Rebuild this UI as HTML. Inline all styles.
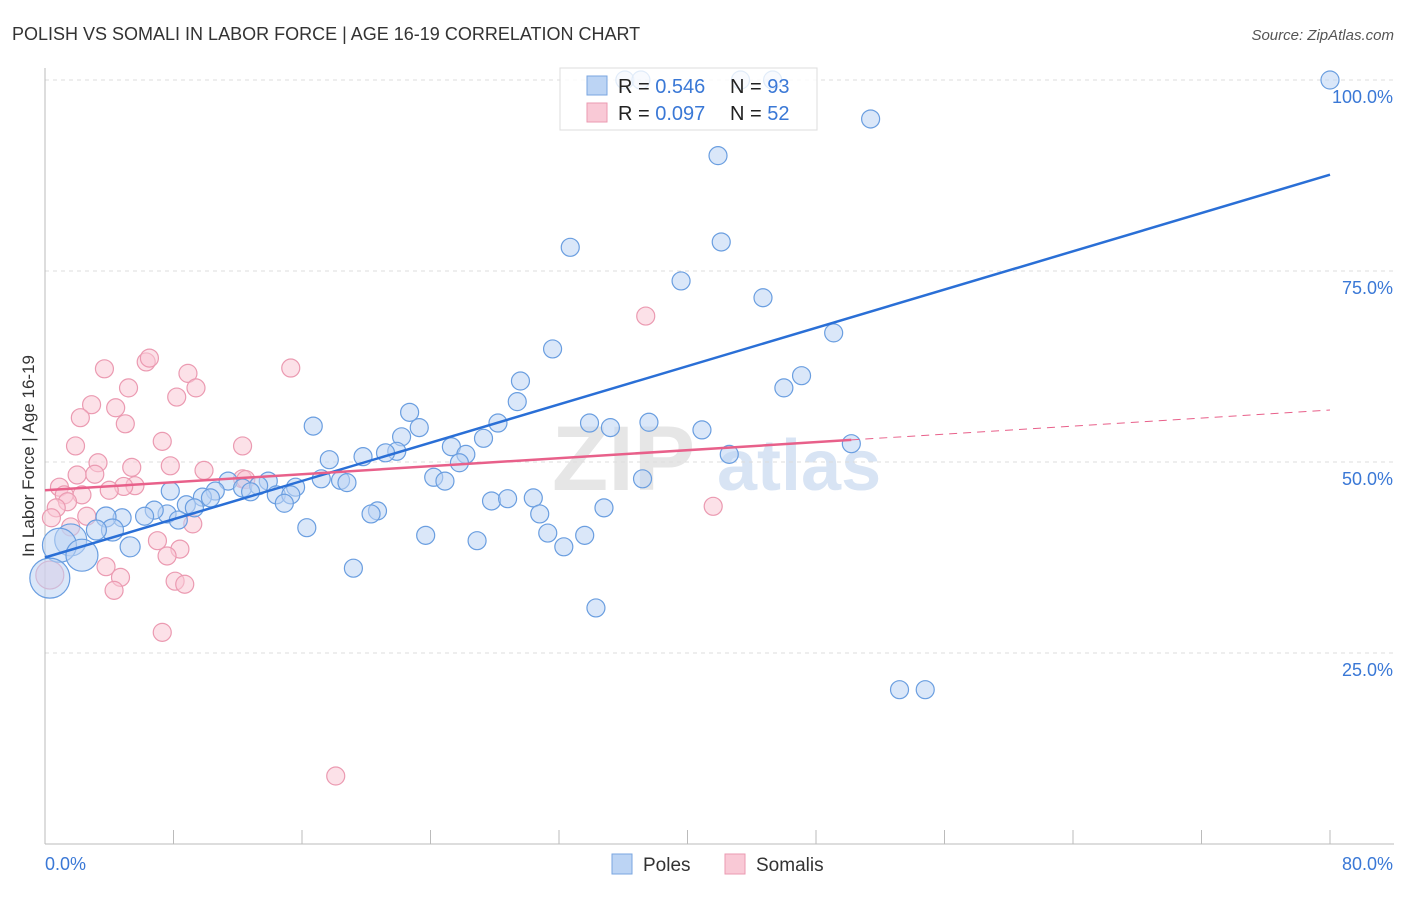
<!DOCTYPE html>
<html><head><meta charset="utf-8"><style>
body{margin:0;background:#fff;font-family:"Liberation Sans",sans-serif}
svg text{font-family:"Liberation Sans",sans-serif}
</style></head><body>
<svg id="chart" width="1406" height="892" viewBox="0 0 1406 892">
<text x="12" y="40" font-size="18" fill="#333">POLISH VS SOMALI IN LABOR FORCE | AGE 16-19 CORRELATION CHART</text>
<text x="1394" y="40" font-size="15" fill="#555" font-style="italic" text-anchor="end">Source: ZipAtlas.com</text>
<g><text x="552" y="490" font-size="92" font-weight="bold" fill="#e6e6e6" font-family="Liberation Serif">ZIP</text><text x="717" y="490" font-size="72" font-weight="bold" fill="#d8e4f4">atlas</text></g>
<g id="grid"></g>
<g id="axes"></g>
<g id="marks"></g>
<text transform="translate(34,456) rotate(-90)" font-size="17" fill="#333" text-anchor="middle">In Labor Force | Age 16-19</text>
<g>
<rect x="560" y="68" width="257" height="62" fill="#fff" fill-opacity="0.8" stroke="#ddd"/>
<rect x="587" y="76" width="20" height="19" fill="#bcd4f4" stroke="#7aa6e0"/>
<rect x="587" y="103" width="20" height="19" fill="#f9c9d6" stroke="#eb9ab1"/>
<text x="618" y="93" font-size="20" fill="#222">R = <tspan fill="#3a78d6">0.546</tspan></text>
<text x="730" y="93" font-size="20" fill="#222">N = <tspan fill="#3a78d6">93</tspan></text>
<text x="618" y="120" font-size="20" fill="#222">R = <tspan fill="#3a78d6">0.097</tspan></text>
<text x="730" y="120" font-size="20" fill="#222">N = <tspan fill="#3a78d6">52</tspan></text>
</g>
<g>
<rect x="612" y="854" width="20" height="20" fill="#bcd4f4" stroke="#7aa6e0"/>
<text x="643" y="871" font-size="19" fill="#333">Poles</text>
<rect x="725" y="854" width="20" height="20" fill="#f9c9d6" stroke="#eb9ab1"/>
<text x="756" y="871" font-size="19" fill="#333">Somalis</text>
</g>
</svg>
<script>
const yTicks=[25,50,75,100];
const yTickLabels=["25.0%","50.0%","75.0%","100.0%"];
const xTicks=[0,8,16,24,32,40,48,56,64,72,80];
const polesX=[80,51.4,41.9,32.7,42.1,39.6,44.7,49.1,31.6,47.1,46,29.6,29.4,22.7,16.7,28.2,33.9,35.2,37.6,40.9,23.3,22.2,27.3,50.2,42.6,25.3,26.2,21.9,21.2,19.8,17.7,25.8,37.2,24.2,24.9,17.2,18.4,18.8,13.9,11.4,12.3,13.3,12.8,15.6,14.4,15.3,14.9,10.6,9.8,10.3,7.8,8.8,9.3,7.6,6.8,6.2,8.3,4.8,3.8,4.2,3.2,5.3,1.6,0.9,2.3,0.3,27.8,28.8,30.4,30.8,34.8,20.7,20.3,16.3,23.7,26.9,31.3,32.3,33.6,19.2,34.3,53.2,54.8,36.1,37.1,43.3,45.3];
const polesY=[100,94.9,90.1,78.1,78.8,73.7,71.5,66.9,64.8,61.3,59.7,60.6,57.9,56.5,54.7,55.1,55.1,54.5,55.2,54.2,54.5,53.3,53.1,52.4,51,52,51,51.4,51.2,50.7,50.3,49.9,47.8,48,47.5,47.8,47.6,47.3,47.5,47.5,46.6,46.9,46.1,46.7,45.7,45.7,44.6,46.2,45.4,45.3,46.2,44.4,44,43.2,43.7,42.9,42.4,42.7,42.8,41.1,41.1,38.9,39.8,39.1,37.8,34.8,44.9,45.2,45.3,43.2,44,43.6,43.2,41.4,40.4,39.7,40.7,38.9,40.4,36.1,30.9,20.2,20.2,100,100,100,100];
const polesSize=[9,9,9,9,9,9,9,9,9,9,9,9,9,9,9,9,9,9,9,9,9,9,9,9,9,9,9,9,9,9,9,9,9,9,9,9,9,9,9,9,9,9,9,9,9,9,9,9,9,9,9,9,9,9,9,9,9,9,10,11,10,10,16,17,16,20,9,9,9,9,9,9,9,9,9,9,9,9,9,9,9,9,9,9,9,9,9];
const somX=[3.7,15.3,6.3,6.5,8.9,5.2,9.4,8.2,2.9,4.4,2.2,5,37.4,7.3,12.3,1.9,5.4,7.8,3.3,9.9,2,3.1,12.3,5.6,4.9,4,0.9,1.2,2.3,1.4,0.7,2.6,0.4,1.6,9.2,41.6,7,8.4,7.6,3.8,4.7,8.1,8.7,4.3,7.3,18.1,0.3,12.5];
const somY=[62.2,62.3,63.1,63.6,61.6,59.7,59.7,58.5,57.5,57.1,55.8,55,69.1,52.7,52.1,52.1,49.3,49.5,49.9,48.9,48.3,48.4,47.8,46.9,46.8,46.3,46.7,45.7,45.7,44.8,44,42.9,42.7,41.5,41.9,44.2,39.7,38.6,37.7,36.3,34.9,34.4,34,33.2,27.7,8.9,35.2,47.7];
const somSize=[9,9,9,9,9,9,9,9,9,9,9,9,9,9,9,9,9,9,9,9,9,9,9,9,9,9,9,9,9,9,9,9,9,9,9,9,9,9,9,9,9,9,9,9,9,9,14,9];
const polesTrend=[37.5,87.6]; // y at x=0 and x=80
const somTrend=[46.3,56.8]; // y at x=0 and x=80
const somTrendSolidEnd=50.2;

const X=v=>45+v/80*1285, Y=v=>844-v/100*764;
const NS="http://www.w3.org/2000/svg";
function mk(t,a,p){const e=document.createElementNS(NS,t);for(const k in a)e.setAttribute(k,a[k]);p.appendChild(e);return e;}
const grid=document.getElementById('grid'),axes=document.getElementById('axes'),marks=document.getElementById('marks');
yTicks.forEach((v,i)=>{
 const l=mk('line',{x1:45,x2:1394,y1:Y(v),y2:Y(v),stroke:'#ddd','stroke-dasharray':'4,4'},grid);
 
 
 const t=mk('text',{x:1393,y:Y(v)+23,'font-size':18,fill:'#3a78d6','text-anchor':'end'},axes);
 t.textContent=yTickLabels[i];
 
 
});
mk('line',{x1:45,x2:45,y1:68,y2:844,stroke:'#bbb'},axes);
mk('line',{x1:45,x2:1394,y1:844,y2:844,stroke:'#bbb'},axes);
xTicks.forEach(v=>{const l=mk('line',{x1:X(v),x2:X(v),y1:830,y2:844,stroke:'#bbb'},axes);
 
 });
const x0=mk('text',{x:45,y:870,'font-size':18,fill:'#3a78d6'},axes);x0.textContent="0.0%";


const x1=mk('text',{x:1393,y:870,'font-size':18,fill:'#3a78d6','text-anchor':'end'},axes);x1.textContent="80.0%";


somX.forEach((v,i)=>{const c=mk('circle',{cx:X(v),cy:Y(somY[i]),r:somSize[i],fill:'#f9c9d6','fill-opacity':0.55,stroke:'#eb9ab1','stroke-width':1.2},marks);
 
 });
polesX.forEach((v,i)=>{const c=mk('circle',{cx:X(v),cy:Y(polesY[i]),r:polesSize[i],fill:'#bcd4f4','fill-opacity':0.55,stroke:'#6a9ee0','stroke-width':1.2},marks);
 
 });
const pl=mk('line',{x1:X(0),y1:Y(polesTrend[0]),x2:X(80),y2:Y(polesTrend[1]),stroke:'#2a6fd6','stroke-width':2.5},marks);


const sy=x=>somTrend[0]+(somTrend[1]-somTrend[0])*x/80;
const sl=mk('line',{x1:X(0),y1:Y(sy(0)),x2:X(somTrendSolidEnd),y2:Y(sy(somTrendSolidEnd)),stroke:'#e8608a','stroke-width':2.5},marks);


const sd=mk('line',{x1:X(somTrendSolidEnd),y1:Y(sy(somTrendSolidEnd)),x2:X(80),y2:Y(sy(80)),stroke:'#e8608a','stroke-width':1,'stroke-dasharray':'8,6'},marks);


</script>
</body></html>
